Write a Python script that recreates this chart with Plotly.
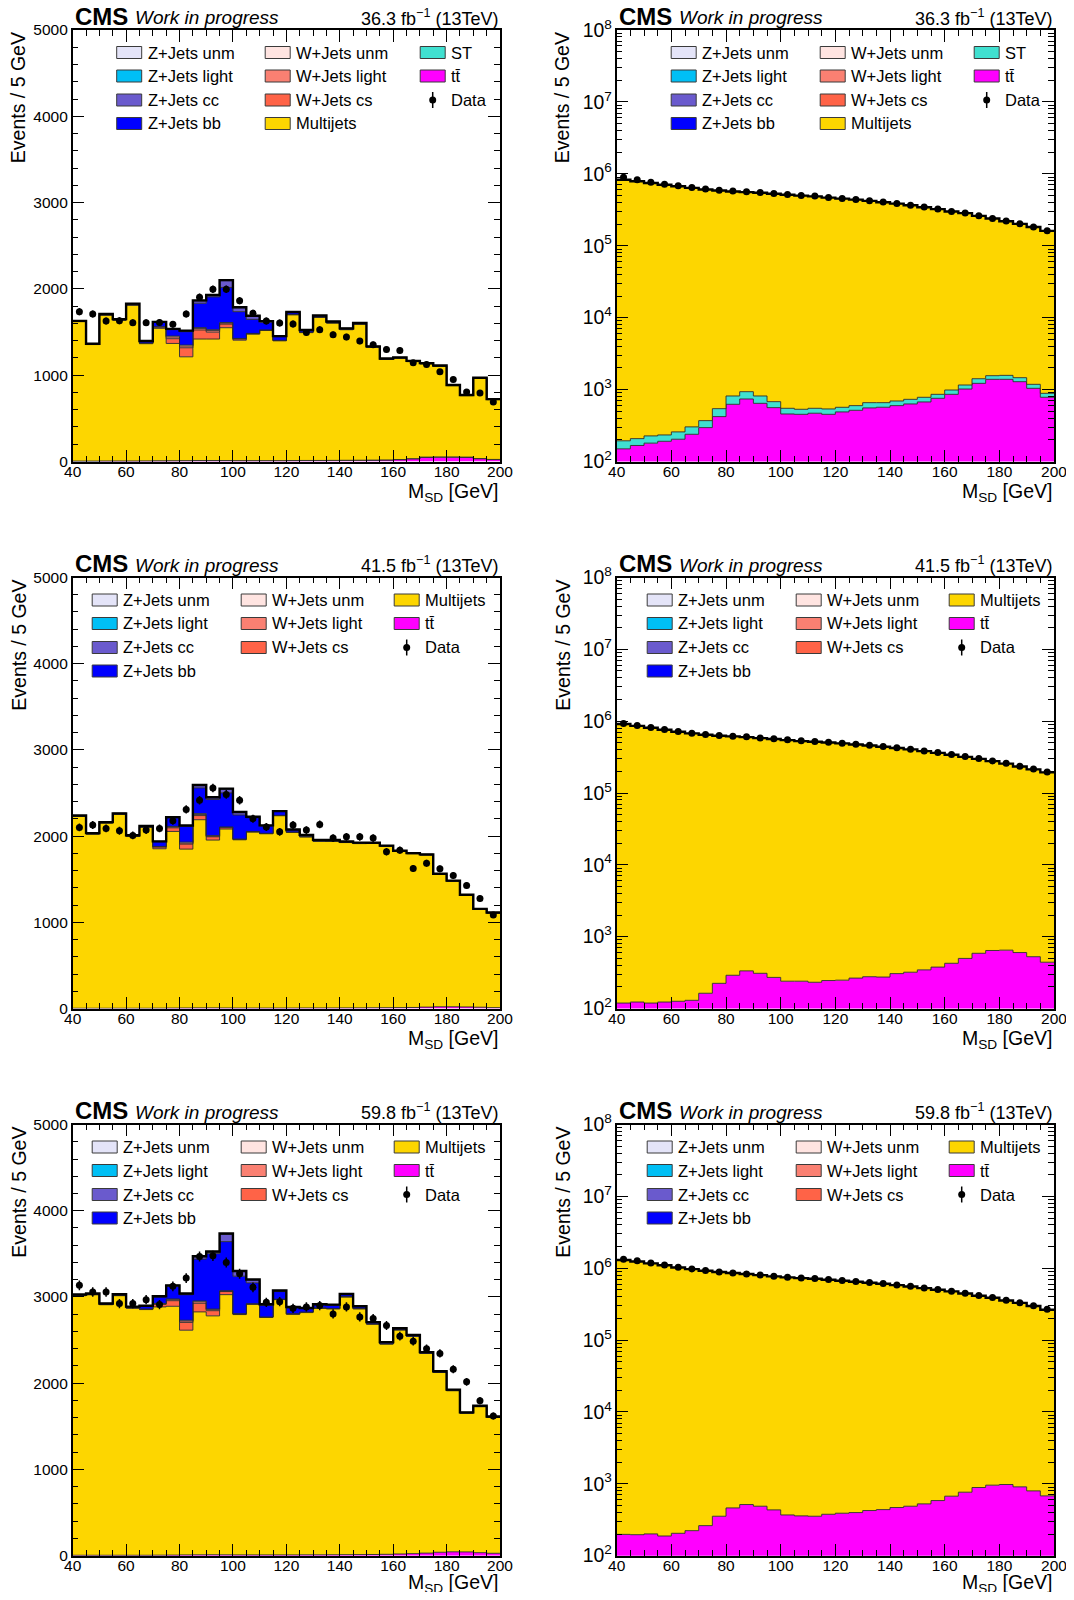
import numpy as np
import plotly.graph_objects as go

# ---------------- binning ----------------
edges = list(range(40, 205, 5))
centers = [e + 2.5 for e in edges[:-1]]

# ---------------- 2016 (36.3 fb-1) linear panel ----------------
data16_lin = [1736,1709,1628,1632,1609,1609,1612,1589,1709,1903,1996,1996,1864,1717,1628,1605,
              1593,1496,1527,1469,1442,1395,1353,1298,1287,1143,1124,1039,950,806,795,690]
tt16_lin = [4,4,5,5,5,6,6,7,8,9,9,9,8,8,8,8,9,10,10,11,12,13,14,16,20,30,48,50,50,48,32,22]
st16_lin = [1,1,1,1,1,1,2,2,2,2,2,2,2,2,2,2,2,2,2,2,2,2,2,2,3,3,3,3,3,3,2,2]
mj16_lin = [1615,1350,1690,1630,1805,1358,1535,1359,1203,1408,1408,1539,1396,1466,1509,1388,
            1688,1481,1657,1591,1513,1576,1305,1164,1173,1124,1080,1051,826,712,930,693]
wcs16 = [3,3,4,4,4,5,14,55,105,105,80,42,14,5,4,4,4,4,3,3,3,3,3,2,2,2,2,2,2,2,1,1]
wlight16 = [1,1,1,1,1,1,3,20,20,18,18,12,4,2,1,1,1,1,1,1,1,1,1,1,1,1,1,1,1,1,1,1]
wunm16 = [1,1,1,1,1,1,2,10,11,9,10,6,2,1,1,1,1,1,1,1,1,1,1,1,1,1,1,0,0,0,0,0]
zbb16 = [2,3,4,5,8,20,50,75,155,283,380,407,310,163,90,42,22,20,14,10,8,6,5,4,4,3,3,3,2,2,2,2]
zcc16 = [1,1,2,2,3,4,4,6,8,27,16,78,47,39,10,5,5,4,3,3,2,2,2,2,1,1,1,1,1,1,1,1]
zlight16 = [1,1,1,1,1,1,1,2,3,4,4,5,3,2,1,1,1,1,1,1,1,1,1,1,1,1,1,1,1,1,1,1]
zunm16 = [0,0,0,0,0,0,1,1,1,2,2,2,1,1,1,1,0,0,0,0,0,0,0,0,0,0,0,0,0,0,0,0]

# ---------------- 2016 log panel ----------------
data16_log = [899000,826000,766000,719000,682000,646000,613000,593000,575000,562000,551000,533000,
              517000,500000,490000,470000,455000,441000,422000,405000,387000,367000,345000,324000,
              300000,285000,261000,240000,220000,202000,182000,162000]
mj16_log = [826000,790000,745000,705000,672000,638000,606000,585000,568000,556000,545000,528000,
            512000,497000,486000,467000,452000,437000,420000,402000,385000,365000,343000,322000,
            299000,283000,259000,238000,218000,200000,181000,160000]
tt16_log = [150,167,180,191,204,239,296,421,624,740,644,561,458,453,469,453,489,515,556,568,598,
            631,673,756,859,1018,1221,1388,1388,1288,1041,781]
st16_log = [44,41,47,43,54,64,74,122,191,195,171,118,91,79,80,85,78,83,102,90,96,101,108,103,127,
            140,195,172,189,175,142,106]

# ---------------- 2017 (41.5 fb-1) linear panel ----------------
data17_lin = [2101,2128,2089,2062,2008,2070,2089,2178,2310,2415,2558,2484,2415,2202,2105,2050,
              2128,2070,2136,1977,1992,1992,1977,1818,1837,1624,1686,1620,1543,1426,1275,1085]
tt17_lin = [3,3,3,3,3,3,4,5,6,7,7,6,5,5,5,5,5,6,6,6,7,7,8,9,10,12,16,20,20,18,15,10]
mj17_lin = [2226,2020,2148,2249,1992,2097,1849,2049,1843,2183,1947,2076,1952,2042,2022,2231,
            2038,1984,1932,1934,1918,1906,1906,1871,1812,1783,1764,1536,1458,1295,1135,1098]
wcs17 = [3,3,3,3,3,4,20,42,58,48,38,16,6,4,3,3,3,3,3,2,2,2,2,2,2,2,2,1,1,1,1,1]
wlight17 = [1,1,1,1,1,1,4,10,12,12,8,5,2,1,1,1,1,1,1,1,1,1,1,1,1,1,1,1,1,1,1,1]
wunm17 = [1,1,1,1,1,1,3,6,11,11,6,3,1,1,1,1,1,1,1,1,1,0,0,0,0,0,0,0,0,0,0,0]
zbb17 = [3,4,4,5,6,10,54,100,185,298,419,395,279,160,85,44,25,15,10,8,6,5,4,4,3,3,3,3,2,2,2,2]
zcc17 = [1,1,1,1,2,2,3,5,5,27,19,43,31,8,5,4,3,3,2,2,2,2,1,1,1,1,1,1,1,1,1,1]
zlight17 = [1,1,1,1,1,1,1,2,2,4,4,5,3,2,1,1,1,1,1,1,1,1,1,1,1,1,1,1,1,1,1,1]
zunm17 = [0,0,0,0,0,0,1,1,1,2,2,2,1,1,1,0,0,0,0,0,0,0,0,0,0,0,0,0,0,0,0,0]

# ---------------- 2017 log panel ----------------
data17_log = [928000,870000,816000,765000,717000,680000,652000,631000,618000,605000,585000,567000,
              549000,532000,520000,509000,493000,478000,462000,443000,425000,407000,385000,365000,
              343000,321000,301000,280000,259000,236000,216000,196000]
mj17_log = [915000,860000,808000,758000,711000,675000,648000,627000,613000,600000,581000,563000,
            545000,528000,517000,505000,490000,474000,459000,440000,422000,404000,382000,362000,
            340000,318000,298000,277000,256000,233000,213000,193000]
tt17_log = [119,123,119,123,126,130,163,224,290,334,309,271,240,240,232,245,248,265,277,274,306,
            320,345,377,426,498,587,642,649,601,526,441]

# ---------------- 2018 (59.8 fb-1) linear panel ----------------
data18_lin = [3135,3058,3058,2923,2923,2969,2912,3123,3219,3469,3477,3400,3269,3112,2938,2946,
              2869,2885,2900,2804,2885,2769,2750,2669,2546,2488,2400,2346,2163,2016,1798,1620]
tt18_lin = [5,5,5,5,5,5,6,7,9,10,11,10,9,9,9,9,9,10,10,11,12,13,14,16,20,24,30,40,45,44,35,28]
mj18_lin = [3010,3020,2905,3010,2865,2849,2879,2885,2606,2817,2770,3017,2787,2906,2753,2960,
            2791,2809,2859,2851,2988,2849,2671,2439,2598,2519,2315,2085,1868,1607,1693,1577]
wcs18 = [4,4,4,4,4,5,30,65,90,100,60,36,7,5,4,4,4,4,3,3,3,3,3,2,2,2,2,2,2,2,1,1]
wlight18 = [1,1,1,1,1,1,5,12,16,18,12,7,2,1,1,1,1,1,1,1,1,1,1,1,1,1,1,1,1,1,1,1]
wunm18 = [1,1,1,1,1,1,3,8,9,9,7,3,1,1,1,1,1,1,1,1,1,0,0,0,0,0,0,0,0,0,0,0]
zbb18 = [5,6,6,7,8,31,77,146,296,485,642,569,435,242,135,88,69,40,35,38,25,22,15,14,13,12,10,8,7,6,6,5]
zcc18 = [2,2,2,2,3,4,5,8,10,27,19,85,54,35,10,10,8,6,5,5,4,4,3,3,3,2,2,2,2,1,1,1]
zlight18 = [1,1,1,1,1,2,2,3,3,5,5,6,4,3,2,2,1,1,1,1,1,1,1,1,1,1,1,1,1,1,1,1]
zunm18 = [0,0,0,0,0,1,1,1,1,2,2,3,2,1,1,1,0,0,0,0,0,0,0,0,0,0,0,0,0,0,0,0]

# ---------------- 2018 log panel ----------------
data18_log = [1335000,1266000,1187000,1113000,1033000,979000,928000,889000,861000,834000,807000,
              773000,749000,733000,717000,695000,673000,652000,631000,611000,585000,561000,532000,
              504000,478000,448000,416000,390000,358000,332000,301000,268000]
mj18_log = [1300000,1240000,1170000,1100000,1025000,972000,922000,884000,856000,829000,802000,
            769000,745000,729000,713000,691000,669000,648000,627000,607000,582000,557000,529000,
            501000,475000,445000,413000,387000,355000,329000,298000,264000]
tt18_log = [198,196,201,188,205,223,262,354,462,515,488,434,369,358,354,377,390,398,425,438,468,
            488,526,585,673,765,889,958,979,908,798,680]

lumis = ["36.3", "41.5", "59.8"]
x_ticks = [40, 60, 80, 100, 120, 140, 160, 180, 200]

# ---------------- styles ----------------
COLORS = {
    "zunm": "#e4e4f8", "zlight": "#00bff5", "zcc": "#6a5acd", "zbb": "#0000ff",
    "wunm": "#ffe4e1", "wlight": "#fa8072", "wcs": "#ff6347",
    "mj": "#fdd600", "st": "#40e0d0", "tt": "#ff00ff",
}
LABELS = {
    "zunm": "Z+Jets unm", "zlight": "Z+Jets light", "zcc": "Z+Jets cc", "zbb": "Z+Jets bb",
    "wunm": "W+Jets unm", "wlight": "W+Jets light", "wcs": "W+Jets cs",
    "mj": "Multijets", "st": "ST", "tt": "tt\u0304", "data": "Data",
}
FONT = "Liberation Sans, Arial, Helvetica, sans-serif"
OFF = 8            # page body margin of the browser
W, H = 1074 - 2 * OFF, 1600 - 2 * OFF

# target positions in screenshot pixels
COLS_X = [(72.7, 500.0), (616.7, 1054.0)]
ROWS_Y = [(30.0, 461.5), (577.5, 1008.5), (1124.5, 1555.7)]
XTITLE_DY = [31, 31, 28]

def px(x):
    return (x - OFF) / W

def py(y):
    return 1 - (y - OFF) / H

panels = [
    dict(row=0, col=0, log=False, data=data16_lin,
         comps=[("tt", tt16_lin), ("st", st16_lin), ("mj", mj16_lin), ("wcs", wcs16),
                ("wlight", wlight16), ("wunm", wunm16), ("zbb", zbb16), ("zcc", zcc16),
                ("zlight", zlight16), ("zunm", zunm16)], lumi=lumis[0], st=True),
    dict(row=0, col=1, log=True, data=data16_log,
         comps=[("tt", tt16_log), ("st", st16_log), ("mj", mj16_log)], lumi=lumis[0], st=True),
    dict(row=1, col=0, log=False, data=data17_lin,
         comps=[("tt", tt17_lin), ("mj", mj17_lin), ("wcs", wcs17), ("wlight", wlight17),
                ("wunm", wunm17), ("zbb", zbb17), ("zcc", zcc17), ("zlight", zlight17),
                ("zunm", zunm17)], lumi=lumis[1], st=False),
    dict(row=1, col=1, log=True, data=data17_log,
         comps=[("tt", tt17_log), ("mj", mj17_log)], lumi=lumis[1], st=False),
    dict(row=2, col=0, log=False, data=data18_lin,
         comps=[("tt", tt18_lin), ("mj", mj18_lin), ("wcs", wcs18), ("wlight", wlight18),
                ("wunm", wunm18), ("zbb", zbb18), ("zcc", zcc18), ("zlight", zlight18),
                ("zunm", zunm18)], lumi=lumis[2], st=False),
    dict(row=2, col=1, log=True, data=data18_log,
         comps=[("tt", tt18_log), ("mj", mj18_log)], lumi=lumis[2], st=False),
]

fig = go.Figure()
shapes = []
annotations = []
layout_axes = {}

for i, p in enumerate(panels, start=1):
    xa = "x" if i == 1 else f"x{i}"
    ya = "y" if i == 1 else f"y{i}"
    xl, xr = COLS_X[p["col"]]
    yt, yb = ROWS_Y[p["row"]]

    # baseline for the stacked fills
    base_val = 1.0 if p["log"] else 0.0
    fig.add_trace(go.Scatter(x=edges, y=[base_val] * len(edges), mode="lines",
                             line=dict(width=0, shape="hv"), hoverinfo="skip",
                             xaxis=xa, yaxis=ya))
    cum = np.zeros(len(centers))
    for key, vals in p["comps"]:
        cum = cum + np.array(vals, dtype=float)
        yy = list(cum) + [cum[-1]]
        fig.add_trace(go.Scatter(x=edges, y=yy, mode="lines",
                                 line=dict(shape="hv", color="#2a2a2a", width=0.9),
                                 fill="tonexty", fillcolor=COLORS[key],
                                 hoverinfo="skip", xaxis=xa, yaxis=ya))
    # total outline
    fig.add_trace(go.Scatter(x=edges, y=list(cum) + [cum[-1]], mode="lines",
                             line=dict(shape="hv", color="black", width=2.4),
                             hoverinfo="skip", xaxis=xa, yaxis=ya))
    # data
    fig.add_trace(go.Scatter(x=centers, y=p["data"], mode="markers",
                             marker=dict(color="black", size=7),
                             error_y=dict(type="sqrt", color="black", thickness=1.5, width=0),
                             xaxis=xa, yaxis=ya))

    xkey = "xaxis" if i == 1 else f"xaxis{i}"
    ykey = "yaxis" if i == 1 else f"yaxis{i}"
    layout_axes[xkey] = dict(
        domain=[px(xl), px(xr)], anchor=ya, range=[40, 200], automargin=False,
        tickmode="array", tickvals=x_ticks, ticks="inside", ticklen=12, tickwidth=1,
        tickcolor="black", ticklabelstandoff=-5, ticklabeloverflow="allow",
        minor=dict(tickmode="linear", tick0=40, dtick=5, ticks="inside", ticklen=6,
                   tickwidth=1, tickcolor="black"),
        showline=True, linecolor="black", linewidth=1.5, mirror="allticks",
        showgrid=False, zeroline=False,
        tickfont=dict(family=FONT, size=15.5, color="black"),
    )
    ydict = dict(
        domain=[py(yb), py(yt)], anchor=xa, automargin=False, ticklabeloverflow="allow",
        ticks="inside", ticklen=12, tickwidth=1, tickcolor="black",
        showline=True, linecolor="black", linewidth=1.5, mirror="allticks",
        showgrid=False, zeroline=False,
        tickfont=dict(family=FONT, size=15.5, color="black"),
    )
    if p["log"]:
        ydict.update(type="log", range=[2, 8], tickmode="linear", tick0=0, dtick=1,
                     exponentformat="power",
                     minor=dict(dtick="D1", ticks="inside", ticklen=6, tickwidth=1,
                                tickcolor="black"))
    else:
        ydict.update(range=[0, 5000], tickmode="linear", tick0=0, dtick=1000,
                     minor=dict(tickmode="linear", tick0=0, dtick=200, ticks="inside",
                                ticklen=6, tickwidth=1, tickcolor="black"))
    layout_axes[ykey] = ydict

    # ---- header ----
    annotations.append(dict(x=px(xl), y=py(yt - 14), xref="paper", yref="paper",
                            text="<b>CMS</b>", showarrow=False, xanchor="left", yanchor="middle",
                            font=dict(family=FONT, size=24, color="black")))
    annotations.append(dict(x=px(xl + 60), y=py(yt - 12.5), xref="paper", yref="paper",
                            text="<i>Work in progress</i>", showarrow=False, xanchor="left",
                            yanchor="middle", font=dict(family=FONT, size=19, color="black")))
    annotations.append(dict(x=px(xr), y=py(yt - 13), xref="paper", yref="paper",
                            text=f"{p['lumi']} fb<sup>\u22121</sup> (13TeV)", showarrow=False,
                            xanchor="right", yanchor="middle",
                            font=dict(family=FONT, size=18, color="black")))
    # ---- axis titles ----
    annotations.append(dict(x=px(xr), y=py(yb + XTITLE_DY[p["row"]]), xref="paper",
                            yref="paper", text="M<sub>SD</sub> [GeV]", showarrow=False,
                            xanchor="right", yanchor="middle",
                            font=dict(family=FONT, size=19.5, color="black")))
    annotations.append(dict(x=px(xl - 54), y=py(yt), xref="paper", yref="paper",
                            text="Events / 5 GeV", showarrow=False, textangle=-90,
                            xanchor="center", yanchor="top",
                            font=dict(family=FONT, size=19.5, color="black")))

    # ---- legend ----
    if p["st"]:
        cols = [["zunm", "zlight", "zcc", "zbb"], ["wunm", "wlight", "wcs", "mj"],
                ["st", "tt", "data"]]
        if p["col"] == 0:
            col_x = [xl + 44, xl + 192.5, xl + 347.5]
        else:
            col_x = [xl + 54.5, xl + 203.5, xl + 357.5]
    else:
        cols = [["zunm", "zlight", "zcc", "zbb"], ["wunm", "wlight", "wcs"],
                ["mj", "tt", "data"]]
        if p["col"] == 0:
            col_x = [xl + 19.5, xl + 168.5, xl + 321.5]
        else:
            col_x = [xl + 30.5, xl + 179.5, xl + 332.5]
    row_dy = [22.5, 46, 70, 93.5]
    for cx, entries in zip(col_x, cols):
        for r, key in enumerate(entries):
            cy = yt + row_dy[r]
            if key == "data":
                mx = cx + 12.5
                shapes.append(dict(type="line", xref="paper", yref="paper",
                                   x0=px(mx), x1=px(mx), y0=py(cy - 8), y1=py(cy + 8),
                                   line=dict(color="black", width=1.5)))
                shapes.append(dict(type="circle", xref="paper", yref="paper",
                                   x0=px(mx - 3.5), x1=px(mx + 3.5), y0=py(cy + 3.5),
                                   y1=py(cy - 3.5), fillcolor="black",
                                   line=dict(color="black", width=0)))
            else:
                shapes.append(dict(type="rect", xref="paper", yref="paper",
                                   x0=px(cx), x1=px(cx + 25), y0=py(cy + 6), y1=py(cy - 6),
                                   fillcolor=COLORS[key],
                                   line=dict(color="#3a3a3a", width=1)))
            annotations.append(dict(x=px(cx + 29), y=py(cy), xref="paper", yref="paper",
                                    text=LABELS[key], showarrow=False, xanchor="left",
                                    yanchor="middle",
                                    font=dict(family=FONT, size=16.5, color="black")))

fig.update_layout(
    width=W, height=H, margin=dict(l=0, r=0, t=0, b=0, autoexpand=False),
    paper_bgcolor="white", plot_bgcolor="white", showlegend=False,
    font=dict(family=FONT, color="black"),
    shapes=shapes, annotations=annotations, **layout_axes,
)

fig.write_html("out.html")
